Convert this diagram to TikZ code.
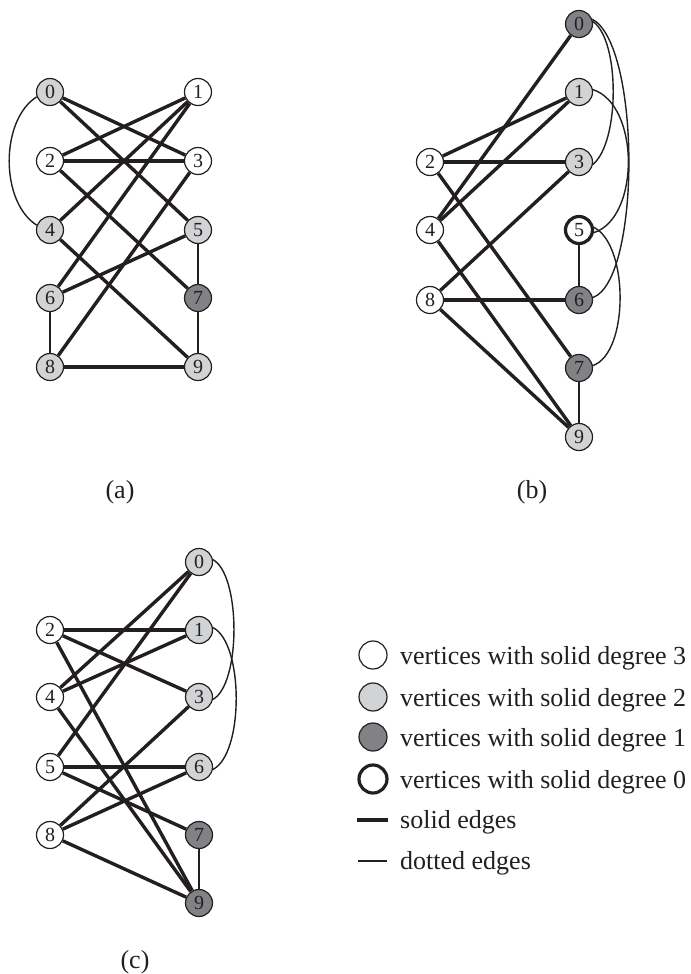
\documentclass[tikz,border=0pt]{standalone}
\usepackage{fontspec}
\setmainfont{Liberation Serif}
\usetikzlibrary{backgrounds}
\definecolor{lightv}{RGB}{209,211,212}
\definecolor{darkv}{RGB}{128,130,133}
\definecolor{ink}{RGB}{35,31,32}
\begin{document}
\begin{tikzpicture}[x=1bp,y=1bp,
  vtx/.style={circle, draw=ink, line width=1.2bp, minimum size=27bp, inner sep=0pt,
              font=\fontsize{20bp}{20bp}\selectfont, text=ink},
  vW/.style={vtx, fill=white},
  vL/.style={vtx, fill=lightv},
  vD/.style={vtx, fill=darkv},
  vZ/.style={vtx, fill=white, line width=3.2bp},
  solidedge/.style={draw=ink, line width=3.4bp},
  thinedge/.style={draw=ink, line width=1.4bp},
  caption/.style={font=\fontsize{26bp}{30bp}\selectfont, text=ink},
]
\useasboundingbox (0,0) rectangle (691,-974);

% ---------- (a) ----------
\node[vL] (a0) at (50,-92) {0};
\node[vW] (a1) at (198,-92) {1};
\node[vW] (a2) at (50,-161) {2};
\node[vW] (a3) at (198,-161) {3};
\node[vL] (a4) at (50,-230) {4};
\node[vL] (a5) at (198,-230) {5};
\node[vL] (a6) at (50,-298) {6};
\node[vD] (a7) at (198,-298) {7};
\node[vL] (a8) at (50,-367) {8};
\node[vL] (a9) at (198,-367) {9};
\begin{scope}[on background layer]
\draw[solidedge] (a0) -- (a3);
\draw[solidedge] (a0) -- (a5);
\draw[solidedge] (a1) -- (a2);
\draw[solidedge] (a1) -- (a4);
\draw[solidedge] (a1) -- (a6);
\draw[solidedge] (a2) -- (a3);
\draw[solidedge] (a2) -- (a7);
\draw[solidedge] (a3) -- (a8);
\draw[solidedge] (a4) -- (a9);
\draw[solidedge] (a5) -- (a6);
\draw[solidedge] (a8) -- (a9);
\draw[thinedge] (a5) -- (a7);
\draw[thinedge] (a7) -- (a9);
\draw[thinedge] (a6) -- (a8);
\draw[thinedge] (a0.200) .. controls (0,-120) and (0,-202) .. (a4.160);
\end{scope}
\node[caption] (capa) at (120,-492) {(a)};

% ---------- (b) ----------
\node[vD] (b0) at (579,-24) {0};
\node[vL] (b1) at (579,-92) {1};
\node[vL] (b3) at (579,-162) {3};
\node[vZ] (b5) at (579,-230) {5};
\node[vD] (b6) at (579,-300) {6};
\node[vD] (b7) at (579,-368) {7};
\node[vL] (b9) at (579,-437) {9};
\node[vW] (b2) at (430,-162) {2};
\node[vW] (b4) at (430,-230) {4};
\node[vW] (b8) at (430,-300) {8};
\begin{scope}[on background layer]
\draw[solidedge] (b0) -- (b4);
\draw[solidedge] (b1) -- (b2);
\draw[solidedge] (b1) -- (b4);
\draw[solidedge] (b2) -- (b3);
\draw[solidedge] (b2) -- (b7);
\draw[solidedge] (b3) -- (b8);
\draw[solidedge] (b4) -- (b9);
\draw[solidedge] (b8) -- (b6);
\draw[solidedge] (b8) -- (b9);
\draw[thinedge] (b5) -- (b6);
\draw[thinedge] (b7) -- (b9);
\draw[thinedge] (b0.10) .. controls (620,-40) and (620,-142) .. (b3.350);
\draw[thinedge] (b0.20) .. controls (641,-45) and (641,-280) .. (b6.10);
\draw[thinedge] (b1.10) .. controls (640,-105) and (640,-218) .. (b5.350);
\draw[thinedge] (b5.10) .. controls (629,-245) and (629,-353) .. (b7.10);
\end{scope}
\node[caption] (capb) at (532,-492) {(b)};

% ---------- (c) ----------
\node[vL] (c0) at (199,-562) {0};
\node[vL] (c1) at (199,-630) {1};
\node[vL] (c3) at (199,-697) {3};
\node[vL] (c6) at (199,-767) {6};
\node[vD] (c7) at (199,-835) {7};
\node[vD] (c9) at (199,-903) {9};
\node[vW] (c2) at (50,-630) {2};
\node[vW] (c4) at (50,-697) {4};
\node[vW] (c5) at (50,-767) {5};
\node[vW] (c8) at (50,-835) {8};
\begin{scope}[on background layer]
\draw[solidedge] (c0) -- (c4);
\draw[solidedge] (c0) -- (c5);
\draw[solidedge] (c1) -- (c2);
\draw[solidedge] (c1) -- (c4);
\draw[solidedge] (c2) -- (c3);
\draw[solidedge] (c2) -- (c9);
\draw[solidedge] (c4) -- (c9);
\draw[solidedge] (c5) -- (c6);
\draw[solidedge] (c5) -- (c7);
\draw[solidedge] (c8) -- (c3);
\draw[solidedge] (c8) -- (c6);
\draw[solidedge] (c8) -- (c9);
\draw[thinedge] (c7) -- (c9);
\draw[thinedge] (c0.10) .. controls (241,-575) and (241,-684) .. (c3.350);
\draw[thinedge] (c1.10) .. controls (244,-643) and (244,-754) .. (c6.350);
\end{scope}
\node[caption] (capc) at (135,-962) {(c)};

% ---------- legend ----------
\node[vW, minimum size=28bp] (k3) at (373,-655) {};
\node[vL, minimum size=28bp] (k2) at (373,-697) {};
\node[vD, minimum size=28bp] (k1) at (373,-737) {};
\node[vZ, minimum size=28bp] (k0) at (373,-779) {};
\node[caption, anchor=base west, inner sep=0pt] (t3) at (400,-664) {vertices with solid degree 3};
\node[caption, anchor=base west, inner sep=0pt] (t2) at (400,-706) {vertices with solid degree 2};
\node[caption, anchor=base west, inner sep=0pt] (t1) at (400,-746) {vertices with solid degree 1};
\node[caption, anchor=base west, inner sep=0pt] (t0) at (400,-788) {vertices with solid degree 0};
\coordinate (s1) at (357,-820);
\coordinate (s2) at (388,-820);
\coordinate (d1) at (358,-861);
\coordinate (d2) at (387,-861);
\draw[solidedge] (s1) -- (s2);
\draw[thinedge] (d1) -- (d2);
\node[caption, anchor=base west, inner sep=0pt] (ts) at (400,-828) {solid edges};
\node[caption, anchor=base west, inner sep=0pt] (td) at (400,-869) {dotted edges};
\end{tikzpicture}
\end{document}
